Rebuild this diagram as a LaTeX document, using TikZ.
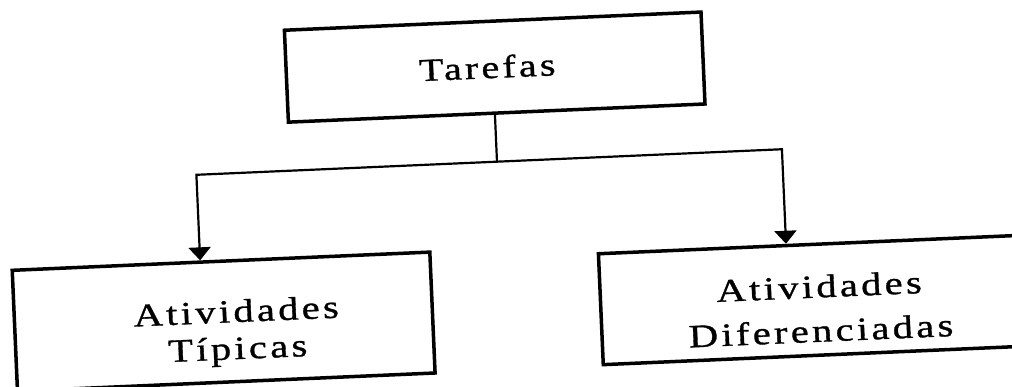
\documentclass[tikz,border=0pt]{standalone}
\usepackage{fontspec}
\setmainfont{Liberation Serif}
\newfontfamily\boxfont[LetterSpace=10,FakeStretch=1.25,FakeBold=1]{Liberation Serif}
\usetikzlibrary{arrows.meta}

\begin{document}
\begin{tikzpicture}[x=1pt,y=-1pt,
  box/.style={draw=black, line width=3.5pt, inner sep=0pt},
  boxtext/.style={anchor=base, align=center, inner sep=0pt},
  link/.style={draw=black, line width=2.2pt},
  arr/.style={link, -{Triangle[width=22pt,length=13pt]}}]
  \useasboundingbox (0,0) rectangle (1012,387);
  \clip (0,0) rectangle (1012,387);
  \begin{scope}[rotate around={2.5:(500,200)}, transform shape]
    % boxes
    \node[box, minimum width=417pt, minimum height=92pt] (tarefas) at (500.5,67) {};
    \node[box, minimum width=418pt, minimum height=121pt] (tipicas) at (218.6,309.5) {};
    \node[box, minimum width=418pt, minimum height=111pt] (difer) at (805,313.5) {};
    % labels (base anchor sits on the last line)
    \node[boxtext, font={\boxfont\fontsize{32}{36}\selectfont}] (tarefas-txt) at (493,77.8) {Tarefas};
    \node[boxtext, font={\boxfont\fontsize{32.5}{37}\selectfont}] (tipicas-txt) at (231.5,347.5) {Atividades\\Típicas};
    \node[boxtext, font={\boxfont\fontsize{32.5}{44.3}\selectfont}] (difer-txt) at (815,355.6) {Atividades\\Diferenciadas};
    % connectors
    \coordinate (split) at (498.7,161.6);
    \coordinate (ltip) at ([xshift=-20.8pt]tipicas.north);
    \coordinate (rtip) at ([xshift=-21pt]difer.north);
    \draw[link] (tarefas.south -| split) -- (split);
    \draw[arr] (split) -| (ltip);
    \draw[arr] (split) -| (rtip);
  \end{scope}
\end{tikzpicture}
\end{document}
